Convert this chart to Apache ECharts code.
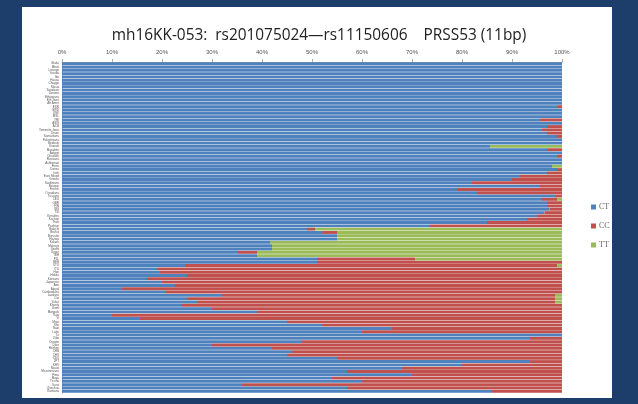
<!DOCTYPE html>
<html><head><meta charset="utf-8">
<script src="https://cdn.jsdelivr.net/npm/echarts@6/dist/echarts.min.js"></script>
<style>html,body{margin:0;padding:0;background:#1d3d6b;}#c{width:638px;height:404px;}</style>
</head><body><div id="c"></div>
<script>
const titleText = "mh16KK-053:  rs201075024\u2014rs11150606    PRSS53 (11bp)";
const seriesNames = ["CT", "CC", "TT"];
const populations = ["Biaka","Mbuti","Lisongo","Yoruba","Ibo","Hausa","Chagga","Masai","Sandawe","Zaramo",
"Ethiopians","Eth Jews","Afr Amer","ESN","GWD","LWK","MSL","YRI","ASW","ACB",
"Yemenite Jews","Druze","Samaritans","Palestinians","Bedouin","Kuwaiti","Mozabite","Adygei","Chuvash","Russians",
"Ashkenazi","Finns","Danes","Irish","Euro Mixed","Greeks","Sardinians","Basque","French","Orcadians",
"Tuscans","CEU","GBR","FIN","IBS","TSI","Keralites","Kachari","Thoti","Pashtun",
"Balochi","Brahui","Burusho","Hazara","Kalash","Makrani","Sindhi","Uygur","GIH","PJL",
"BEB","STU","ITU","Han","Hakka","Koreans","Japanese","Ami","Atayal","Cambodians",
"Laotians","Dai","Yakut","Khanty","Komi","Mongols","Tujia","Yi","Miao","She",
"Naxi","Lahu","Tu","Xibo","Oroqen","Daur","Hezhen","CHB","CHS","CDX",
"JPT","KHV","Nasioi","Micronesians","Pima","Maya","Ticuna","Surui","Quechua","Karitiana"];
const ctValues = [100,100,100,100,100,100,100,100,100,100,
100,100,100,99,100,100,100,95.6,100,97,
96,97,99,100,100,85.6,97,100,99,100,
100,98,99,97,91.6,90,82,95.6,79,83,
98.6,96,97,97,97.5,96.5,95,93,85,73.6,
49,52,55,55,41.6,42,42,35.2,39,51,
51,24.6,19,19.6,25,17,20,22.6,12,20.6,
32,25,27,24,30,39,10,15.6,45,52,
66,60,100,93.6,48,30,42,46,45,55,
93.6,80,68,57,70,54,60,36,57,86];
const ccValues = [0,0,0,0,0,0,0,0,0,0,
0,0,0,1,0,0,0,4.4,0,3,
4,3,1,0,0,0,3,0,1,0,
0,0,1,3,8.4,10,18,4.4,21,17,
1.4,3,3,3,2.5,3.5,5,7,15,26.4,
1.6,3,0,0,0,0,0,3.8,0,19.6,
49,74.4,81,80.4,75,83,80,77.4,88,79.4,
66.6,73.6,71.6,76,70,61,90,84.4,55,48,
34,40,0,6.4,52,70,58,54,55,45,
6.4,20,32,43,30,46,40,64,43,14];
const ttValues = [0,0,0,0,0,0,0,0,0,0,
0,0,0,0,0,0,0,0,0,0,
0,0,0,0,0,14.4,0,0,0,0,
0,2,0,0,0,0,0,0,0,0,
0,1,0,0,0,0,0,0,0,0,
49.4,45,45,45,58.4,58,58,61,61,29.4,
0,1,0,0,0,0,0,0,0,0,
1.4,1.4,1.4,0,0,0,0,0,0,0,
0,0,0,0,0,0,0,0,0,0,
0,0,0,0,0,0,0,0,0,0];
const tickLabels = ["0%","10%","20%","30%","40%","50%","60%","70%","80%","90%","100%"];
const colors = ["#4f81bd", "#c0504d", "#9bbb59"];

const chart = echarts.init(document.getElementById('c'), null, {renderer: 'canvas'});
const vals = [ctValues, ccValues, ttValues];
chart.setOption({
  backgroundColor: '#1d3d6b',
  animation: false,
  graphic: [{type: 'rect', shape: {x: 22, y: 7, width: 590, height: 391}, style: {fill: '#ffffff'}, z: -10}],
  title: {text: titleText, left: 'center', top: 23, textStyle: {fontFamily: 'Open Sans', fontWeight: 'normal', fontSize: 15.4, color: '#222'}},
  legend: {orient: 'vertical', left: 586, top: 198, itemWidth: 5, itemHeight: 5, itemGap: 11, icon: 'rect',
    textStyle: {fontFamily: 'Liberation Serif', fontSize: 8, color: '#666', padding: [0,0,0,-2]}, data: seriesNames},
  grid: {left: 62, right: 76, top: 62, bottom: 11},
  xAxis: {type: 'value', position: 'top', min: 0, max: 100, interval: 10,
    axisLine: {show: true, lineStyle: {color: '#aaa'}}, axisTick: {show: true, length: 3, lineStyle: {color: '#aaa'}},
    splitLine: {show: false},
    axisLabel: {fontSize: 6, color: '#555', margin: 7, formatter: v => tickLabels[Math.round(v/10)]}},
  yAxis: {type: 'category', inverse: true, data: populations,
    axisLine: {show: true, lineStyle: {color: '#aaa'}}, axisTick: {show: false},
    axisLabel: {fontSize: 3, color: '#555', interval: 0, margin: 3}},
  series: seriesNames.map((n, k) => ({name: n, type: 'bar', stack: 'all', data: vals[k],
    barCategoryGap: '12%', itemStyle: {color: colors[k]}}))
});
</script></body></html>
